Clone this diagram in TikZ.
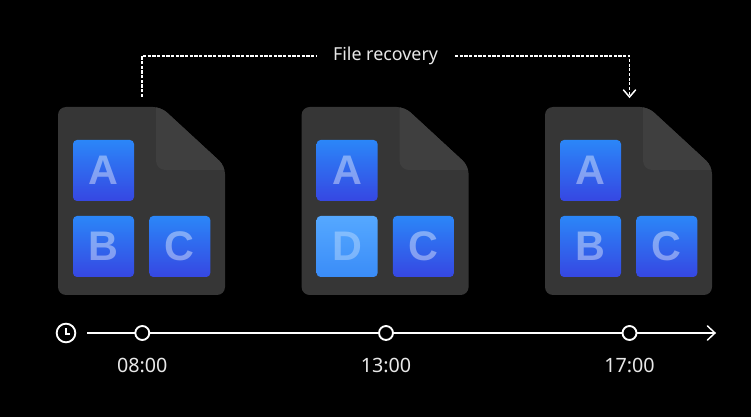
\documentclass[tikz,border=0pt]{standalone}
\usepackage{fontspec}
\setmainfont{Liberation Sans}
\newfontfamily\labelfont{Noto Sans}
\usetikzlibrary{arrows.meta}
\definecolor{bodygray}{HTML}{363636}
\definecolor{foldgray}{HTML}{3F3F3F}
\definecolor{tiletop}{HTML}{2B86F8}
\definecolor{tilebot}{HTML}{3647E2}
\definecolor{dtop}{HTML}{55A8FF}
\definecolor{dbot}{HTML}{3A8CF8}
\definecolor{softwhite}{HTML}{E8E8E8}
\tikzset{
  x=0.75pt,y=-0.75pt,
  tilebox/.style={minimum width=45.75pt,minimum height=45.75pt,inner sep=0pt,rounded corners=3pt,
    top color=tiletop,bottom color=tilebot,font=\fontsize{31}{31}\selectfont\bfseries,text=white,text opacity=0.4},
  tilenew/.style={tilebox,top color=dtop,bottom color=dbot,text opacity=0.3},
  tick/.style={circle,draw=white,fill=black,line width=1.4pt,minimum size=10.5pt,inner sep=0pt},
  timelabel/.style={text=softwhite,font=\labelfont\fontsize{14.8}{15}\selectfont,inner sep=0pt},
  dashline/.style={draw=white,line width=0.9pt,dash pattern=on 2.4pt off 1.1pt},
}
\newcommand{\docshape}[1]{%
  \begin{scope}[shift={(#1,0)}]
    \fill[bodygray,rounded corners=6pt] (58,107) -- (161,107) -- (225,166) -- (225,295) -- (58,295) -- cycle;
    \begin{scope}
      \clip[rounded corners=6pt] (58,107) -- (161,107) -- (225,166) -- (225,295) -- (58,295) -- cycle;
      \fill[foldgray,rounded corners=7pt] (156,100) -- (156,170) -- (235,170) -- (235,100) -- cycle;
    \end{scope}
  \end{scope}}
\begin{document}
\begin{tikzpicture}
\fill[black] (0,0) rectangle (751,417);
\useasboundingbox (0,0) rectangle (751,417);
\docshape{0}
\docshape{243.6}
\docshape{487}
% tiles
\node[tilebox] (a1) at (103.5,170.5) {A};
\node[tilebox] (b1) at (103.5,246.5) {B};
\node[tilebox] (c1) at (179.8,246.5) {C};
\node[tilebox] (a2) at (347.1,170.5) {A};
\node[tilenew] (d2) at (347.1,246.5) {D};
\node[tilebox] (c2) at (423.4,246.5) {C};
\node[tilebox] (a3) at (590.5,170.5) {A};
\node[tilebox] (b3) at (590.5,246.5) {B};
\node[tilebox] (c3) at (666.8,246.5) {C};
% recovery connector
\node[text=softwhite,font=\labelfont\fontsize{13.4}{14}\selectfont,inner sep=0pt,minimum width=104pt,minimum height=12pt] (rec) at (385.5,56) {File recovery};
\coordinate (from) at (142,97);
\coordinate (to) at (629.5,97);
\draw[dashline] (from) |- (rec.west);
\draw[dashline] (rec.east) -| (to);
\draw[white,line width=1.1pt,line cap=round,line join=miter] (623.5,90) -- (to) -- (635.5,90);
% timeline
\node[circle,draw=white,line width=1.4pt,minimum size=14pt,inner sep=0pt] (clock) at (66,333) {};
\draw[white,line width=1pt] (66,328.5) -- (66,334) -- (70,334);
\coordinate (linestart) at (87,333);
\coordinate (lineend) at (715,333);
\draw[white,line width=1.1pt] (linestart) -- (lineend);
\draw[white,line width=1.1pt,line cap=round] (707.5,326) -- (lineend) -- (707.5,340);
\node[tick] (t1) at (142.3,333) {};
\node[tick] (t2) at (386,333) {};
\node[tick] (t3) at (629.5,333) {};
\node[timelabel] (l1) at (142.3,365) {08:00};
\node[timelabel] (l2) at (386,365) {13:00};
\node[timelabel] (l3) at (629.5,365) {17:00};
\end{tikzpicture}
\end{document}
